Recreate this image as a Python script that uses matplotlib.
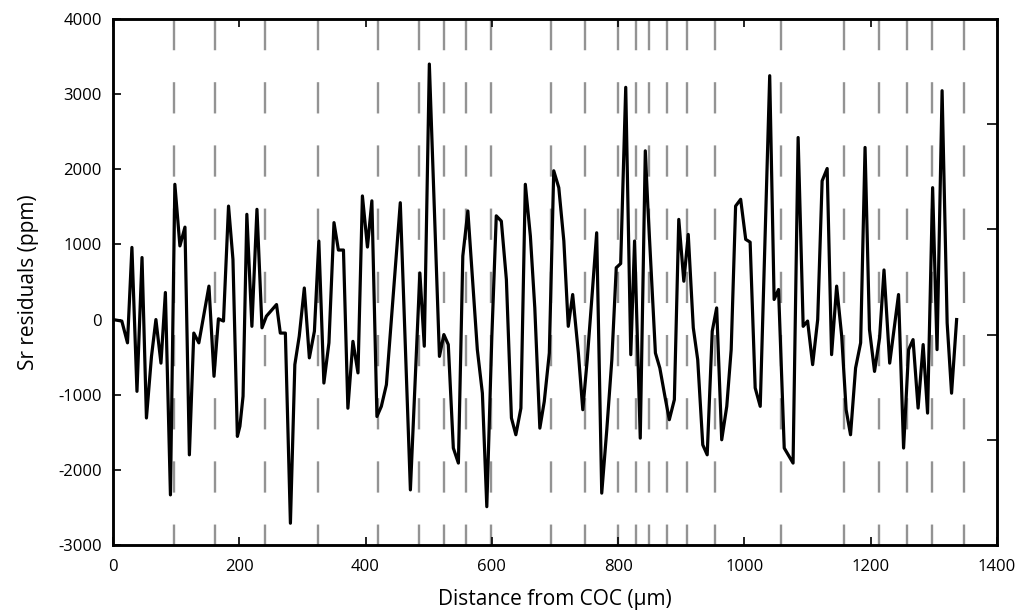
import matplotlib
matplotlib.use("Agg")
import matplotlib.pyplot as plt
from matplotlib import font_manager

available = {f.name for f in font_manager.fontManager.ttflist}
family = [f for f in ['Liberation Sans Narrow', 'Open Sans', 'DejaVu Sans'] if f in available]
plt.rcParams['font.family'] = family
plt.rcParams['lines.scale_dashes'] = False
plt.rcParams['axes.unicode_minus'] = False

# Distance from COC (µm) and Sr residuals (ppm)
distance = [0, 14, 23, 30, 38, 46, 53, 61, 68, 76, 83, 91, 98, 106, 114, 121, 128, 136,
            152, 160, 167, 175, 183, 190, 197, 201, 206, 212, 220, 228, 236, 243, 259, 265,
            273, 281, 288, 295, 303, 311, 319, 326, 334, 342, 350, 357, 365, 372, 380, 388,
            395, 403, 410, 418, 425, 433, 455, 471, 486, 493, 501, 517, 524, 531, 539, 547,
            554, 562, 577, 585, 592, 600, 607, 615, 623, 631, 638, 646, 653, 661, 668, 676,
            683, 691, 698, 706, 714, 721, 728, 737, 744, 751, 759, 766, 774, 782, 790, 797,
            804, 812, 820, 826, 835, 843, 847, 859, 866, 874, 881, 889, 896, 904, 911, 919,
            926, 934, 941, 949, 956, 964, 972, 979, 986, 994, 1002, 1009, 1017, 1025, 1040,
            1047, 1054, 1063, 1077, 1085, 1093, 1100, 1108, 1116, 1123, 1131, 1138, 1146,
            1154, 1161, 1168, 1176, 1184, 1191, 1198, 1206, 1214, 1221, 1230, 1244, 1252,
            1260, 1267, 1275, 1283, 1290, 1298, 1305, 1313, 1321, 1328, 1336]
sr_resid = [0, -20, -310, 960, -955, 825, -1310, -490, 0, -580, 360, -2333, 1800, 980,
            1230, -1800, -180, -310, 445, -755, 10, -20, 1510, 800, -1555, -1420, -1020,
            1400, -90, 1467, -110, 45, 200, -180, -180, -2710, -600, -220, 420, -510, -155,
            1045, -845, -310, 1290, 925, 925, -1180, -290, -710, 1645, 965, 1580, -1290,
            -1155, -867, 1555, -2267, 620, -355, 3400, -490, -200, -333, -1710, -1910, 845,
            1445, -400, -980, -2490, -220, 1380, 1310, 533, -1310, -1533, -1180, 1800, 1110,
            155, -1445, -1090, -445, 1980, 1755, 1045, -90, 333, -445, -1200, -535, 355,
            1155, -2310, -1467, -535, 690, 745, 3090, -467, 1045, -1578, 2245, 1510, -445,
            -645, -1020, -1333, -1067, 1333, 510, 1133, -110, -535, -1667, -1800, -155, 155,
            -1600, -1155, -400, 1510, 1600, 1067, 1030, -910, -1155, 3245, 267, 400, -1710,
            -1910, 2422, -90, -20, -600, 0, 1845, 2010, -467, 445, -220, -1200, -1533, -645,
            -310, 2290, -133, -690, -245, 660, -580, 333, -1710, -400, -267, -1178, -333,
            -1245, 1755, -400, 3045, -45, -980, 0]

# Positions of the dashed vertical markers (µm)
marker_positions = [96, 161, 240, 325, 420, 484, 525, 559, 598, 694, 748, 800, 829, 849,
                    878, 909, 954, 1058, 1157, 1213, 1257, 1297, 1347]

x_ticks = [0, 200, 400, 600, 800, 1000, 1200, 1400]
y_ticks = [-3000, -2000, -1000, 0, 1000, 2000, 3000, 4000]

fig = plt.figure(figsize=(10.15, 6.14), dpi=100)
ax = fig.add_axes([0.1113, 0.1124, 0.8710, 0.8567])

for xm in marker_positions:
    ax.plot([xm, xm], [4000, -3000], color='#939393', lw=1.7,
            dashes=(22.5, 23.0), zorder=1)

ax.plot(distance, sr_resid, color='black', lw=2.3, zorder=3)

ax.set_xlim(0, 1400)
ax.set_ylim(-3000, 4000)
ax.set_xticks(x_ticks)
ax.set_yticks(y_ticks)
ax.tick_params(axis='x', direction='in', top=True, bottom=True, length=6, width=1.2,
               labelsize=12, pad=10)
ax.tick_params(axis='y', direction='in', left=True, right=False, length=6, width=1.2,
               labelsize=12, pad=8)
for s in ax.spines.values():
    s.set_linewidth(1.8)

ax.set_xlabel('Distance from COC (µm)', fontsize=15, labelpad=10)
ax.set_ylabel('Sr residuals (ppm)', fontsize=15, labelpad=14)

ax2 = ax.twinx()
ax2.set_ylim(0, 5)
ax2.set_yticks([1, 2, 3, 4])
ax2.set_yticklabels([])
ax2.tick_params(axis='y', direction='in', length=7, width=1.2)
for s in ax2.spines.values():
    s.set_linewidth(1.8)

fig.savefig('out.png', dpi=100)
